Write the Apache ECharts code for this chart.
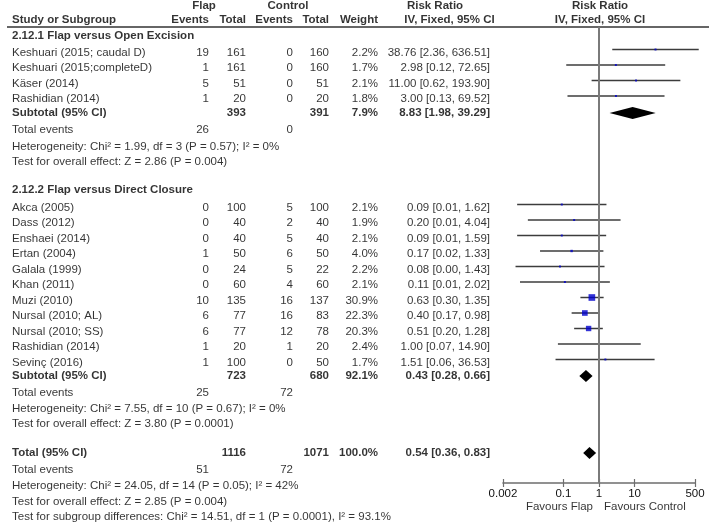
<!DOCTYPE html>
<html><head><meta charset="utf-8">
<script src="https://cdn.jsdelivr.net/npm/echarts@6/dist/echarts.min.js"></script>
<style>html,body{margin:0;padding:0;background:#fff}#c{width:709px;height:522px}</style>
</head><body><div id="c"></div>
<script>
// ================= DATA =================
const groupTitles = ['2.12.1 Flap versus Open Excision', '2.12.2 Flap versus Direct Closure'];

const g1Studies = ['Keshuari (2015; caudal D)', 'Keshuari (2015;completeD)', 'Käser (2014)', 'Rashidian (2014)'];
const g1FlapEvents = [19, 1, 5, 1];
const g1FlapTotal = [161, 161, 51, 20];
const g1CtrlEvents = [0, 0, 0, 0];
const g1CtrlTotal = [160, 160, 51, 20];
const g1Weight = ['2.2%', '1.7%', '2.1%', '1.8%'];
const g1WeightVal = [2.2, 1.7, 2.1, 1.8];
const g1RR = [38.76, 2.98, 11.00, 3.00];
const g1Lo = [2.36, 0.12, 0.62, 0.13];
const g1Hi = [636.51, 72.65, 193.90, 69.52];
const g1CIText = ['38.76 [2.36, 636.51]', '2.98 [0.12, 72.65]', '11.00 [0.62, 193.90]', '3.00 [0.13, 69.52]'];

const g2Studies = ['Akca (2005)', 'Dass (2012)', 'Enshaei (2014)', 'Ertan (2004)', 'Galala (1999)', 'Khan (2011)',
  'Muzi (2010)', 'Nursal (2010; AL)', 'Nursal (2010; SS)', 'Rashidian (2014)', 'Sevinç (2016)'];
const g2FlapEvents = [0, 0, 0, 1, 0, 0, 10, 6, 6, 1, 1];
const g2FlapTotal = [100, 40, 40, 50, 24, 60, 135, 77, 77, 20, 100];
const g2CtrlEvents = [5, 2, 5, 6, 5, 4, 16, 16, 12, 1, 0];
const g2CtrlTotal = [100, 40, 40, 50, 22, 60, 137, 83, 78, 20, 50];
const g2Weight = ['2.1%', '1.9%', '2.1%', '4.0%', '2.2%', '2.1%', '30.9%', '22.3%', '20.3%', '2.4%', '1.7%'];
const g2WeightVal = [2.1, 1.9, 2.1, 4.0, 2.2, 2.1, 30.9, 22.3, 20.3, 2.4, 1.7];
const g2RR = [0.09, 0.20, 0.09, 0.17, 0.08, 0.11, 0.63, 0.40, 0.51, 1.00, 1.51];
const g2Lo = [0.005, 0.01, 0.005, 0.022, 0.0045, 0.006, 0.30, 0.17, 0.20, 0.07, 0.06];
const g2Hi = [1.62, 4.04, 1.59, 1.33, 1.43, 2.02, 1.35, 0.98, 1.28, 14.90, 36.53];
const g2CIText = ['0.09 [0.01, 1.62]', '0.20 [0.01, 4.04]', '0.09 [0.01, 1.59]', '0.17 [0.02, 1.33]', '0.08 [0.00, 1.43]',
  '0.11 [0.01, 2.02]', '0.63 [0.30, 1.35]', '0.40 [0.17, 0.98]', '0.51 [0.20, 1.28]', '1.00 [0.07, 14.90]', '1.51 [0.06, 36.53]'];

// summaries: subtotal 1, subtotal 2, total
const sumNames = ['Subtotal (95% CI)', 'Subtotal (95% CI)', 'Total (95% CI)'];
const sumFlapTotal = [393, 723, 1116];
const sumCtrlTotal = [391, 680, 1071];
const sumWeight = ['7.9%', '92.1%', '100.0%'];
const sumRR = [8.83, 0.43, 0.54];
const sumLo = [1.98, 0.28, 0.36];
const sumHi = [39.29, 0.66, 0.83];
const sumCIText = ['8.83 [1.98, 39.29]', '0.43 [0.28, 0.66]', '0.54 [0.36, 0.83]'];
const sumFlapEvents = [26, 25, 51];
const sumCtrlEvents = [0, 72, 72];
const sumHetero = ['Heterogeneity: Chi² = 1.99, df = 3 (P = 0.57); I² = 0%',
  'Heterogeneity: Chi² = 7.55, df = 10 (P = 0.67); I² = 0%',
  'Heterogeneity: Chi² = 24.05, df = 14 (P = 0.05); I² = 42%'];
const sumEffect = ['Test for overall effect: Z = 2.86 (P = 0.004)',
  'Test for overall effect: Z = 3.80 (P = 0.0001)',
  'Test for overall effect: Z = 2.85 (P = 0.004)'];
const subgroupTest = 'Test for subgroup differences: Chi² = 14.51, df = 1 (P = 0.0001), I² = 93.1%';

const tickValues = [0.002, 0.1, 1, 10, 500];
const tickLabels = ['0.002', '0.1', '1', '10', '500'];
const favourLabels = ['Favours Flap', 'Favours Control'];

// ================= LAYOUT =================
const FONT = '"Liberation Sans", Arial, Helvetica, sans-serif';
const FS = 11.5;
const ROW0 = 52.5, ROWH = 15.5;           // px of first study row, row pitch
const slot = px => (px - ROW0) / ROWH;
const MARK_SHIFT = -3 / ROWH;              // study marks sit slightly above text centre
const COL = {study: 12, fE: 209, fT: 246, cE: 293, cT: 329, w: 378, ci: 490,
  rrHead: 435, ciHead: 449.5, plotHead: 600, flapHead: 204, ctrlHead: 288, favL: 593, favR: 604};
const PLOT = {left: 503, right: 695, top: 27, bottom: 483};

// rows (in px of text centre)
const Y = {h1: 5.5, h2: 20, line: 27,
  g1Head: 35.5, g1Sub: 113, g1Ev: 130, g1Het: 146.5, g1Eff: 162,
  g2Head: 190, g2First: 207.5, g2Sub: 376, g2Ev: 393, g2Het: 409, g2Eff: 424,
  tot: 453, totEv: 470, totHet: 486, totEff: 502, subTest: 517, fav: 507};

// ================= BUILD =================
const texts = [];
function T(x, ypx, t, align, bold) {
  texts.push({value: [x, slot(ypx)], t: String(t),
    label: {align: align || 'left', fontWeight: bold ? 'bold' : 'normal'}});
}
// headers
T(COL.flapHead, Y.h1, 'Flap', 'center', 1);
T(COL.ctrlHead, Y.h1, 'Control', 'center', 1);
T(COL.rrHead, Y.h1, 'Risk Ratio', 'center', 1);
T(COL.plotHead, Y.h1, 'Risk Ratio', 'center', 1);
T(COL.study, Y.h2, 'Study or Subgroup', 'left', 1);
T(COL.fE, Y.h2, 'Events', 'right', 1);
T(COL.fT, Y.h2, 'Total', 'right', 1);
T(COL.cE, Y.h2, 'Events', 'right', 1);
T(COL.cT, Y.h2, 'Total', 'right', 1);
T(COL.w, Y.h2, 'Weight', 'right', 1);
T(COL.ciHead, Y.h2, 'IV, Fixed, 95% CI', 'center', 1);
T(COL.plotHead, Y.h2, 'IV, Fixed, 95% CI', 'center', 1);

const ciData = [], ptData = [], diaData = [];
function studyRows(names, fe, ft, ce, ct, wt, wv, rr, lo, hi, txt, firstSlot) {
  names.forEach((n, i) => {
    const s = firstSlot + i, py = ROW0 + s * ROWH;
    T(COL.study, py, n, 'left');
    T(COL.fE, py, fe[i], 'right');
    T(COL.fT, py, ft[i], 'right');
    T(COL.cE, py, ce[i], 'right');
    T(COL.cT, py, ct[i], 'right');
    T(COL.w, py, wt[i], 'right');
    T(COL.ci, py, txt[i], 'right');
    ciData.push([Math.log10(lo[i]), Math.log10(hi[i]), s + MARK_SHIFT]);
    ptData.push([Math.log10(rr[i]), s + MARK_SHIFT, wv[i]]);
  });
}
function summaryRows(k, ySub, yEv, yHet, yEff) {
  T(COL.study, ySub, sumNames[k], 'left', 1);
  T(COL.fT, ySub, sumFlapTotal[k], 'right', 1);
  T(COL.cT, ySub, sumCtrlTotal[k], 'right', 1);
  T(COL.w, ySub, sumWeight[k], 'right', 1);
  T(COL.ci, ySub, sumCIText[k], 'right', 1);
  T(COL.study, yEv, 'Total events', 'left');
  T(COL.fE, yEv, sumFlapEvents[k], 'right');
  T(COL.cE, yEv, sumCtrlEvents[k], 'right');
  T(COL.study, yHet, sumHetero[k], 'left');
  T(COL.study, yEff, sumEffect[k], 'left');
  diaData.push([Math.log10(sumLo[k]), Math.log10(sumRR[k]), Math.log10(sumHi[k]), slot(ySub)]);
}
T(COL.study, Y.g1Head, groupTitles[0], 'left', 1);
studyRows(g1Studies, g1FlapEvents, g1FlapTotal, g1CtrlEvents, g1CtrlTotal, g1Weight, g1WeightVal, g1RR, g1Lo, g1Hi, g1CIText, 0);
summaryRows(0, Y.g1Sub, Y.g1Ev, Y.g1Het, Y.g1Eff);
T(COL.study, Y.g2Head, groupTitles[1], 'left', 1);
studyRows(g2Studies, g2FlapEvents, g2FlapTotal, g2CtrlEvents, g2CtrlTotal, g2Weight, g2WeightVal, g2RR, g2Lo, g2Hi, g2CIText, slot(Y.g2First));
summaryRows(1, Y.g2Sub, Y.g2Ev, Y.g2Het, Y.g2Eff);
summaryRows(2, Y.tot, Y.totEv, Y.totHet, Y.totEff);
T(COL.study, Y.subTest, subgroupTest, 'left');
T(COL.favL, Y.fav, favourLabels[0], 'right');
T(COL.favR, Y.fav, favourLabels[1], 'left');

const logTicks = tickValues.map(v => Math.log10(v));
const xMin = logTicks[0], xMax = logTicks[logTicks.length - 1];

const chart = echarts.init(document.getElementById('c'), null, {renderer: 'canvas'});
chart.setOption({
  animation: false,
  backgroundColor: '#fff',
  textStyle: {fontFamily: FONT, fontSize: FS, color: '#000'},
  grid: [
    {left: 0, top: 0, width: 709, height: 522},
    {left: PLOT.left, top: PLOT.top, width: PLOT.right - PLOT.left, height: PLOT.bottom - PLOT.top}
  ],
  xAxis: [
    {gridIndex: 0, type: 'value', min: 0, max: 709, show: false},
    {gridIndex: 1, type: 'value', min: xMin, max: xMax, position: 'bottom',
      axisLine: {show: true, onZero: false, lineStyle: {color: '#6e6e6e', width: 1.6}},
      axisTick: {show: true, customValues: logTicks, length: 4, lineStyle: {color: '#6e6e6e', width: 1.2}},
      axisLabel: {show: true, customValues: logTicks, margin: 5, color: '#111', fontSize: FS, fontFamily: FONT,
        formatter: v => { let b = 0; logTicks.forEach((t, i) => { if (Math.abs(t - v) < Math.abs(logTicks[b] - v)) b = i; }); return tickLabels[b]; }},
      splitLine: {show: false}},
    {gridIndex: 1, type: 'value', min: xMin, max: xMax, position: 'top', offset: -(PLOT.bottom - PLOT.top),
      axisLine: {show: false, onZero: false},
      axisTick: {show: true, inside: false, customValues: logTicks, length: 4, lineStyle: {color: '#6e6e6e', width: 1.2}},
      axisLabel: {show: false}, splitLine: {show: false}}
  ],
  yAxis: [
    {gridIndex: 0, type: 'value', inverse: true, min: slot(0), max: slot(522), show: false},
    {gridIndex: 1, type: 'value', inverse: true, min: slot(PLOT.top), max: slot(PLOT.bottom), show: false}
  ],
  series: [
    {type: 'line', xAxisIndex: 0, yAxisIndex: 0, data: [[7, slot(Y.line)], [709, slot(Y.line)]],
      symbol: 'none', lineStyle: {color: '#333', width: 1.3}, silent: true},
    {type: 'custom', xAxisIndex: 1, yAxisIndex: 1, data: ciData, clip: false,
      encode: {x: [0, 1], y: 2},
      renderItem: (p, api) => {
        const a = api.coord([api.value(0), api.value(2)]);
        const b = api.coord([api.value(1), api.value(2)]);
        return {type: 'line', shape: {x1: a[0], y1: a[1], x2: b[0], y2: b[1]},
          style: {stroke: '#3c3c3c', lineWidth: 1.5}};
      },
      markLine: {silent: true, symbol: 'none', label: {show: false},
        lineStyle: {color: '#7a7a7a', width: 2, type: 'solid'}, data: [{xAxis: 0}]},
      z: 2},
    {type: 'scatter', xAxisIndex: 1, yAxisIndex: 1, data: ptData, symbol: 'rect',
      symbolSize: v => Math.max(2, 1.2 * Math.sqrt(v[2])),
      itemStyle: {color: '#0000cc'}, clip: false, z: 4},
    {type: 'custom', xAxisIndex: 1, yAxisIndex: 1, data: diaData, clip: false,
      encode: {x: [0, 1, 2], y: 3},
      renderItem: (p, api) => {
        const l = api.coord([api.value(0), api.value(3)]);
        const m = api.coord([api.value(1), api.value(3)]);
        const r = api.coord([api.value(2), api.value(3)]);
        const h = 6;
        return {type: 'polygon', shape: {points: [[l[0], l[1]], [m[0], m[1] - h], [r[0], r[1]], [m[0], m[1] + h]]},
          style: {fill: '#000'}};
      }, z: 5},
    {type: 'scatter', xAxisIndex: 0, yAxisIndex: 0, data: texts, symbolSize: 0, silent: true,
      label: {show: true, position: 'inside', verticalAlign: 'middle', color: '#000',
        fontFamily: FONT, fontSize: FS, formatter: p => p.data.t}, z: 10}
  ]
});
</script>
</body></html>
